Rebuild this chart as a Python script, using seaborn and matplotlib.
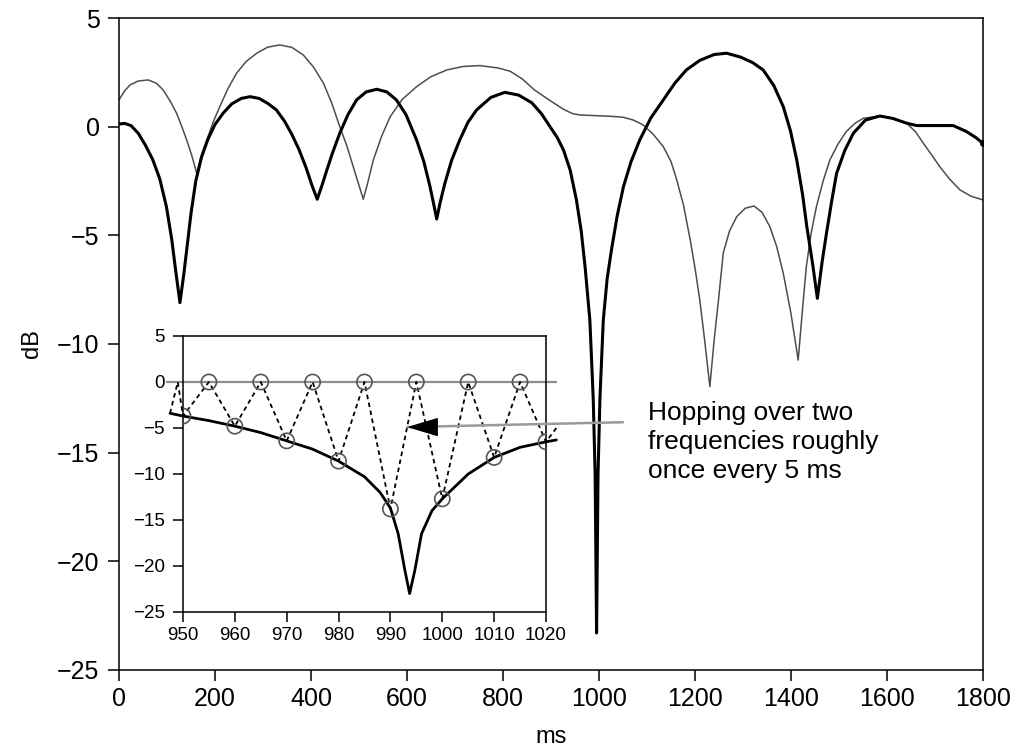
import numpy as np
import pandas as pd
import matplotlib
matplotlib.use("Agg")
import matplotlib.pyplot as plt
import seaborn as sns

# main curves (ms, dB)
thick_ms = [0, 12, 25, 40, 55, 70, 85, 99, 110, 118, 127, 135, 142, 150, 160, 172, 185,
            200, 217, 235, 255, 273, 292, 310, 328, 345, 360, 375, 390, 402, 413, 423, 433,
            445, 460, 477, 495, 515, 537, 558, 578, 598, 620, 635, 648, 656, 662, 669, 679,
            693, 710, 727, 745, 775, 804, 833, 860, 880, 898, 913, 926, 940, 953, 963, 971,
            981, 988, 992, 995, 998, 1002, 1009, 1017, 1026, 1038, 1051, 1067, 1085, 1108,
            1134, 1158, 1182, 1210, 1240, 1266, 1295, 1320, 1342, 1364, 1384, 1399, 1412,
            1424, 1433, 1445, 1455, 1465, 1474, 1485, 1495, 1512, 1530, 1555, 1585, 1612,
            1641, 1662, 1700, 1738, 1766, 1785, 1800]
thick_db = [0.12, 0.15, 0.05, -0.3, -0.85, -1.5, -2.4, -3.7, -5.2, -6.6, -8.1, -6.8, -5.5,
            -4.0, -2.5, -1.4, -0.6, 0.1, 0.62, 1.05, 1.3, 1.38, 1.3, 1.07, 0.77, 0.25, -0.35,
            -1.05, -1.9, -2.7, -3.34, -2.7, -2.0, -1.2, -0.3, 0.55, 1.23, 1.6, 1.72, 1.6,
            1.23, 0.55, -0.61, -1.6, -2.76, -3.6, -4.25, -3.5, -2.6, -1.55, -0.61, 0.2, 0.77,
            1.35, 1.58, 1.45, 1.1, 0.6, 0.0, -0.5, -1.07, -2.0, -3.37, -4.8, -6.44, -8.9,
            -12.5, -16.0, -23.3, -16.0, -12.5, -8.9, -7.0, -5.67, -4.1, -2.76, -1.6, -0.61,
            0.4, 1.23, 2.0, 2.61, 3.05, 3.32, 3.38, 3.2, 2.95, 2.61, 1.9, 0.92, -0.2, -1.53,
            -3.1, -4.6, -6.3, -7.9, -6.2, -4.9, -3.4, -2.15, -1.1, -0.3, 0.3, 0.49, 0.38,
            0.16, 0.05, 0.05, 0.05, -0.23, -0.5, -0.77]

thin_ms = [0, 12, 23, 40, 61, 78, 92, 106, 120, 131, 141, 152, 162, 172, 183, 196, 210,
           227, 245, 265, 287, 310, 335, 360, 384, 405, 426, 443, 460, 475, 488, 500, 509,
           518, 530, 547, 565, 590, 620, 650, 683, 717, 752, 790, 815, 840, 865, 898, 926,
           945, 960, 1000, 1030, 1051, 1072, 1092, 1113, 1134, 1150, 1162, 1176, 1190, 1200,
           1210, 1220, 1231, 1240, 1249, 1259, 1272, 1287, 1305, 1323, 1340, 1356, 1370,
           1384, 1400, 1415, 1424, 1432, 1442, 1453, 1467, 1481, 1498, 1515, 1533, 1551,
           1585, 1612, 1641, 1660, 1676, 1693, 1710, 1730, 1752, 1775, 1800]
thin_db = [1.23, 1.65, 1.92, 2.1, 2.15, 2.0, 1.69, 1.2, 0.62, 0.0, -0.61, -1.35, -2.15,
           -1.3, -0.61, 0.2, 0.92, 1.75, 2.46, 3.0, 3.38, 3.66, 3.76, 3.65, 3.3, 2.75, 2.0,
           1.1, 0.0, -0.9, -1.84, -2.7, -3.34, -2.6, -1.53, -0.45, 0.46, 1.25, 1.84, 2.3,
           2.61, 2.77, 2.81, 2.7, 2.55, 2.2, 1.7, 1.2, 0.8, 0.6, 0.54, 0.5, 0.47, 0.43, 0.3,
           0.08, -0.35, -0.92, -1.6, -2.45, -3.6, -5.2, -6.5, -7.97, -9.8, -11.96, -9.8,
           -7.97, -5.8, -4.8, -4.14, -3.75, -3.65, -3.95, -4.6, -5.5, -6.75, -8.6, -10.74,
           -8.4, -6.44, -4.9, -3.68, -2.5, -1.53, -0.8, -0.23, 0.15, 0.39, 0.49, 0.38, 0.16,
           -0.25, -0.77, -1.3, -1.84, -2.4, -2.91, -3.2, -3.37]

# inset: zoom on 950-1020 ms
inset_thick_ms = [947.5, 950, 955, 960, 965, 970, 975, 980, 985, 988, 990, 991.5, 992.8,
                  993.7, 994.7, 996, 998, 1000, 1005, 1010, 1015, 1020, 1022]
inset_thick_db = [-3.4, -3.7, -4.2, -4.8, -5.5, -6.4, -7.3, -8.6, -10.3, -12.0, -13.7,
                  -16.5, -20.5, -23.0, -20.5, -16.5, -14.0, -12.7, -10.0, -8.2, -7.1, -6.5,
                  -6.3]
hop_ms = [947.5, 949, 950, 955, 960, 965, 970, 975, 980, 985, 990, 995, 1000, 1005, 1010,
          1015, 1020, 1022]
hop_db = [-3.4, 0, -3.7, 0, -4.8, 0, -6.4, 0, -8.6, 0, -13.8, 0, -12.7, 0, -8.2, 0, -6.5, -5.0]
low_ms = [950, 960, 970, 980, 990, 1000, 1010, 1020]
low_db = [-3.7, -4.8, -6.4, -8.6, -13.8, -12.7, -8.2, -6.5]
up_ms = [955, 965, 975, 985, 995, 1005, 1015]
up_db = [0, 0, 0, 0, 0, 0, 0]
gray_ms = [947, 1022]
gray_db = [0, 0]

note = "Hopping over two\nfrequencies roughly\nonce every 5 ms"

sns.set_theme(style="ticks", rc={
    "axes.edgecolor": "black",
    "axes.linewidth": 1.1,
    "xtick.color": "black",
    "ytick.color": "black",
    "text.color": "black",
    "axes.labelcolor": "black",
})
plt.rcParams["font.family"] = ["Liberation Sans", "DejaVu Sans"]

fig = plt.figure(figsize=(10.16, 7.5), dpi=100)
ax = fig.add_axes([0.1171, 0.1067, 0.8504, 0.8693])

sns.lineplot(x=thin_ms, y=thin_db, ax=ax, color="#4d4d4d", linewidth=1.1, estimator=None)
sns.lineplot(x=thick_ms, y=thick_db, ax=ax, color="black", linewidth=2.2, estimator=None)
ax.plot(thick_ms[-1], thick_db[-1], "o", color="black", markersize=4)

ax.set_xlim(0, 1800)
ax.set_ylim(-25, 5)
ax.set_xticks(range(0, 1801, 200))
ax.set_yticks(range(-25, 6, 5))
ax.tick_params(labelsize=18, length=8, width=1.1)
ax.tick_params(axis="x", pad=4)
ax.tick_params(axis="y", pad=6)
ax.set_xlabel("ms", fontsize=17, labelpad=11)
ax.set_ylabel("dB", fontsize=17, labelpad=10)

ax.text(1102, -14.5, note, fontsize=19, ha="left", va="center", linespacing=1.25)

# inset
ins = fig.add_axes([0.1801, 0.184, 0.3573, 0.368])
ins.set_facecolor("white")
sns.lineplot(x=gray_ms, y=gray_db, ax=ins, color="#8c8c8c", linewidth=1.6, estimator=None)
sns.lineplot(x=hop_ms, y=hop_db, ax=ins, color="black", linewidth=1.3, estimator=None,
             linestyle=(0, (2.5, 2)))
sns.lineplot(x=inset_thick_ms, y=inset_thick_db, ax=ins, color="black", linewidth=2.0,
             estimator=None)
sns.scatterplot(x=low_ms, y=low_db, ax=ins, s=120, facecolor="none", edgecolor="#555555",
                linewidth=1.2, zorder=4)
sns.scatterplot(x=up_ms, y=up_db, ax=ins, s=120, facecolor="none", edgecolor="#555555",
                linewidth=1.2, zorder=4)
for ln in ins.lines:
    ln.set_clip_on(False)

ins.set_xlim(950, 1020)
ins.set_ylim(-25, 5)
ins.set_xticks(range(950, 1021, 10))
ins.set_yticks(range(-25, 6, 5))
ins.tick_params(labelsize=13.5, length=7, width=1.1)
ins.tick_params(axis="x", pad=4)
ins.tick_params(axis="y", pad=6)

# arrow from the note into the inset: gray shaft, black head
ins.annotate("", xy=(993.2, -4.9), xycoords="data", xytext=(1050, -13.6),
             textcoords=ax.transData, annotation_clip=False,
             arrowprops=dict(arrowstyle="-", color="#9a9a9a", linewidth=1.8,
                             shrinkA=0, shrinkB=0))
ins.annotate("", xy=(993.2, -4.9), xycoords="data", xytext=(999.0, -4.9),
             textcoords="data", annotation_clip=False,
             arrowprops=dict(arrowstyle="-|>,head_length=2.0,head_width=0.6",
                             mutation_scale=10, color="black", linewidth=1,
                             shrinkA=0, shrinkB=0))

fig.savefig("out.png", dpi=100)
